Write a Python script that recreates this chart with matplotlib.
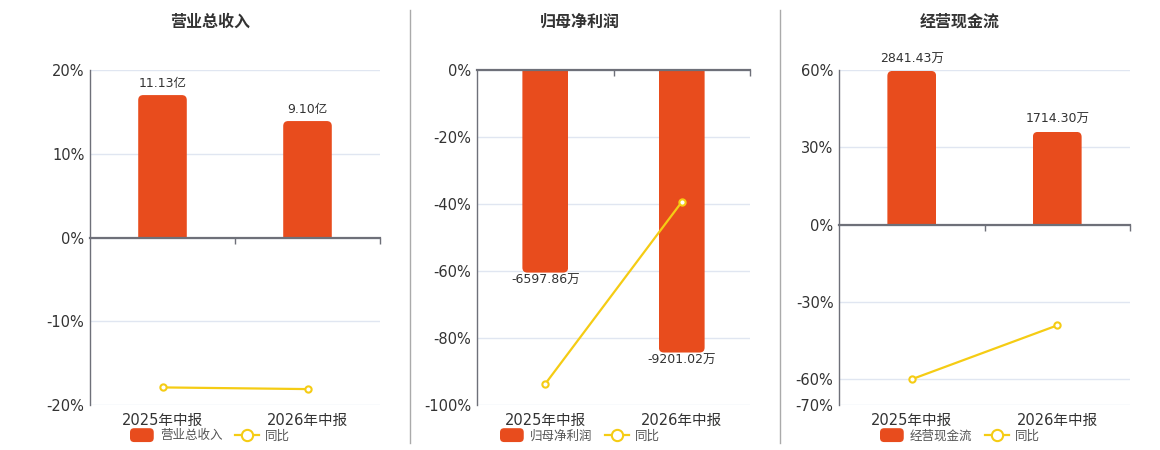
import matplotlib
matplotlib.use("Agg")
import matplotlib.pyplot as plt
from matplotlib.legend_handler import HandlerPatch
from matplotlib.lines import Line2D
from matplotlib.patches import FancyBboxPatch

plt.rcParams["font.family"] = ["DejaVu Sans", "Noto Sans CJK SC"]

periods = ["2025年中报", "2026年中报"]

titles = ["营业总收入", "归母净利润", "经营现金流"]
bar_values = [
    [11.13, 9.10],          # 亿
    [-6597.86, -9201.02],   # 万
    [2841.43, 1714.30],     # 万
]
bar_units = ["亿", "万", "万"]
yoy_values = [
    [-17.9, -18.1],
    [-93.7, -39.4],
    [-60.0, -39.1],
]
pct_ticks = [
    [20, 10, 0, -10, -20],
    [0, -20, -40, -60, -80, -100],
    [60, 30, 0, -30, -60, -70],
]
# value range of the hidden bar axis, matched to the percentage axis
bar_limits = [(-13.09, 13.09), (-10910, 0), (-3335.5, 2859)]

BAR = "#e84c1d"
LINE = "#f5cc14"
AXIS = "#6e7079"
GRID = "#e0e6f1"
TEXT = "#333333"

W, H = 1160, 450
fig = plt.figure(figsize=(W / 100, H / 100), dpi=100)

# axes rectangles in pixels: left, top, right, bottom
rects = [(90, 70, 380, 405), (477, 70, 750, 405), (839, 70, 1130, 405)]
title_x = [210, 580, 960]


def add_rounded(ax, bars, rect_px, radius_px=5):
    """Rounded cap on the far end of each bar, clipped square at zero."""
    x0, x1 = ax.get_xlim()
    y0, y1 = ax.get_ylim()
    px_x = (rect_px[2] - rect_px[0]) / (x1 - x0)
    px_y = (rect_px[3] - rect_px[1]) / (y1 - y0)
    ext = 3 * radius_px / px_y
    for b in bars:
        h = b.get_height()
        if h >= 0:
            lo, hh = b.get_y() - ext, h + ext
        else:
            lo, hh = b.get_y() + h, -h + ext
        patch = FancyBboxPatch(
            (b.get_x(), lo), b.get_width(), hh,
            boxstyle=f"round,pad=0,rounding_size={radius_px / px_x}",
            mutation_aspect=px_x / px_y,
            facecolor=BAR, edgecolor="none", zorder=2,
        )
        ax.add_patch(patch)
        patch.set_clip_path(b)


def rounded_handle(legend, orig_handle, xdescent, ydescent, width, height, fontsize):
    h = 10.0
    return FancyBboxPatch((-xdescent, -ydescent + (height - h) / 2), width, h,
                          boxstyle="round,pad=0,rounding_size=3")


all_bars = []
for i in range(3):
    l, t, r, btm = rects[i]
    pos = [l / W, 1 - btm / H, (r - l) / W, (btm - t) / H]
    ticks = pct_ticks[i]
    ylim = (min(ticks), max(ticks))
    xs = list(range(len(periods)))

    ax = fig.add_axes(pos)
    ax.set_xlim(-0.5, len(periods) - 0.5)
    ax.set_ylim(*ylim)
    ax.set_yticks(ticks)
    ax.set_yticklabels([f"{v}%" for v in ticks])
    ax.set_xticks(xs)
    ax.set_xticklabels(periods)
    ax.tick_params(axis="y", length=0, pad=4, labelsize=10.5, labelcolor=TEXT)
    ax.tick_params(axis="x", length=0, pad=6, labelsize=10.5, labelcolor=TEXT)
    ax.grid(axis="y", color=GRID, linewidth=1)
    ax.set_axisbelow(True)
    for s in ("top", "right", "bottom"):
        ax.spines[s].set_visible(False)
    ax.spines["left"].set_color(AXIS)
    ax.spines["left"].set_linewidth(1)

    axb = ax.twinx()
    axb.set_ylim(*bar_limits[i])
    axb.set_xlim(-0.5, len(periods) - 0.5)
    axb.axis("off")
    bars = axb.bar(xs, bar_values[i], width=0.335, color=BAR, linewidth=0,
                   label=titles[i], zorder=2)
    add_rounded(axb, bars, rects[i])
    all_bars.append(bars)
    for x, v in zip(xs, bar_values[i]):
        axb.annotate(f"{v:.2f}{bar_units[i]}", (x, v),
                     xytext=(0, 4 if v >= 0 else -1), textcoords="offset points",
                     ha="center", va="bottom" if v >= 0 else "top",
                     fontsize=9, color=TEXT)

    axl = fig.add_axes(pos, facecolor="none")
    axl.set_xlim(-0.5, len(periods) - 0.5)
    axl.set_ylim(*ylim)
    for s in ("top", "right", "left"):
        axl.spines[s].set_visible(False)
    axl.spines["bottom"].set_position(("data", 0))
    axl.spines["bottom"].set_color(AXIS)
    axl.spines["bottom"].set_linewidth(1.6)
    axl.set_yticks([])
    axl.set_xticks([x + 0.5 for x in xs])
    axl.set_xticklabels([])
    axl.tick_params(axis="x", length=4, width=1, color=AXIS, direction="out")
    axl.plot(xs, yoy_values[i], color=LINE, linewidth=1.6, marker="o",
             markersize=4.5, markerfacecolor="white", markeredgewidth=1.5,
             label="同比", zorder=3)

    fig.text(title_x[i] / W, 1 - 22 / H, titles[i], ha="center", va="center",
             fontsize=11.5, fontweight="bold", color=TEXT)

    handles = [bars[0], axl.get_lines()[0]]
    fig.legend(handles, [titles[i], "同比"], loc="center",
               bbox_to_anchor=(title_x[i] / W, 1 - 436 / H), ncol=2,
               frameon=False, fontsize=9, markerscale=1.8,
               handlelength=1.9, handletextpad=0.5, columnspacing=1.0,
               labelcolor="#555555",
               handler_map={bars[0]: HandlerPatch(patch_func=rounded_handle)})

# legend handles are copies; the plain bars only serve as clip outlines now
for bars in all_bars:
    for b in bars:
        b.set_visible(False)

for xpx in (410, 780):
    fig.add_artist(Line2D([xpx / W, xpx / W], [1 - 10 / H, 1 - 443 / H],
                          color="#aaaaaa", linewidth=1))

fig.savefig("out.png", dpi=100)
